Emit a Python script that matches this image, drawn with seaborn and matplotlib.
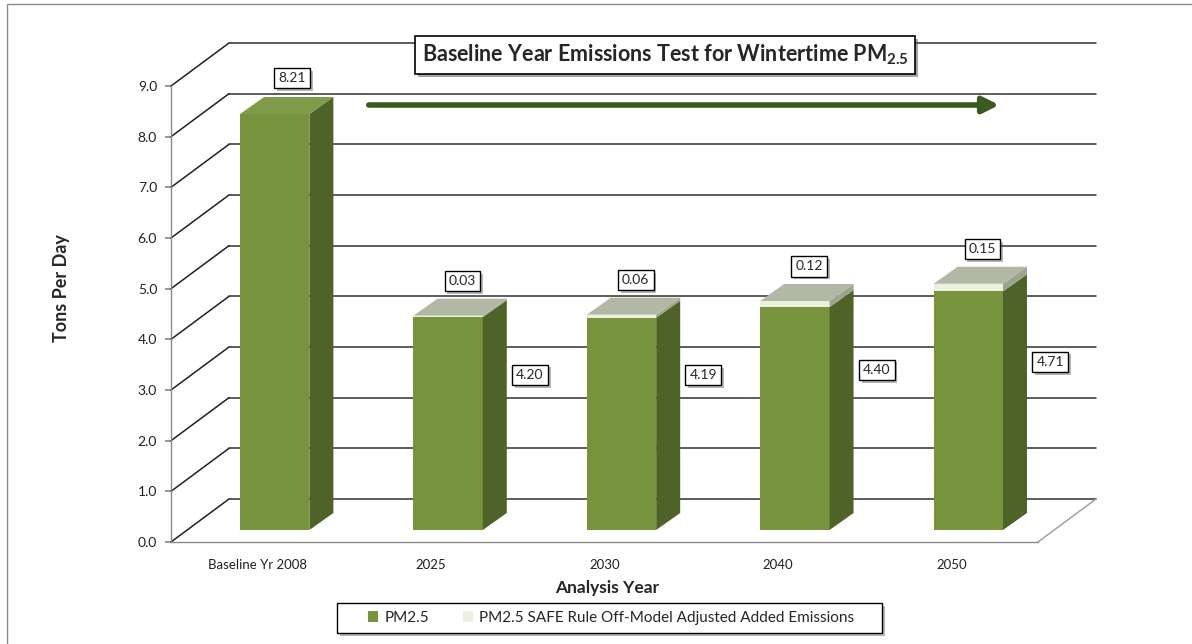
import matplotlib
matplotlib.use("Agg")
import matplotlib.pyplot as plt
import matplotlib.patheffects as pe
from matplotlib.patches import Polygon, Rectangle, Patch
import numpy as np
import pandas as pd
import seaborn as sns

# data
categories = ["Baseline Yr 2008", "2025", "2030", "2040", "2050"]
pm25 = [8.21, 4.20, 4.19, 4.40, 4.71]
safe = [0.00, 0.03, 0.06, 0.12, 0.15]
yticks = [0, 1, 2, 3, 4, 5, 6, 7, 8, 9]

GREEN = "#77933C"
GREEN_SIDE = "#4F6228"
GREEN_TOP = "#7F9A48"
LIGHT = "#EBF1DE"
LIGHT_SIDE = "#9DA48E"
LIGHT_TOP = "#B1B8A6"
ARROW = "#3A5A1F"

W, H = 1192, 644


def fx(px):
    return px / W


def fy(py):
    return 1 - py / H


def boxed(ax, x, y, s, **kw):
    t = ax.text(x, y, s, ha="center", va="center", fontsize=10, zorder=10,
                bbox=dict(boxstyle="square,pad=0.3", fc="white", ec="black", lw=1), **kw)
    t.get_bbox_patch().set_path_effects([pe.SimplePatchShadow(offset=(2, -2), alpha=0.4), pe.Normal()])
    return t


def main():
    sns.set_theme(style="white")
    plt.rcParams["font.family"] = ["Lato", "DejaVu Sans"]
    plt.rcParams["mathtext.fontset"] = "custom"
    plt.rcParams["mathtext.bf"] = "Lato:bold"
    plt.rcParams["mathtext.rm"] = "Lato:bold"
    plt.rcParams["mathtext.default"] = "bf"

    fig = plt.figure(figsize=(W / 100, H / 100), dpi=100)
    ax = fig.add_axes([fx(171), fy(542), fx(1038) - fx(171), fy(86) - fy(542)])

    # pixel scale of the front plane
    ppx = (1038 - 171) / 5
    ppy = (542 - 86) / 9
    wall_dx, wall_dy = 58 / ppx, 43 / ppy    # back wall offset
    bar_dx, bar_dy = 17 / ppx, 12 / ppy      # bar front plane offset
    dep_dx, dep_dy = 24 / ppx, 17 / ppy      # bar depth

    totals = [p + s for p, s in zip(pm25, safe)]
    df = pd.DataFrame({"year": categories, "pm25": pm25, "total": totals})

    # back wall gridlines and left wall diagonals
    for v in yticks:
        ax.plot([-0.5 + wall_dx, 4.5 + wall_dx], [v + wall_dy, v + wall_dy],
                color="#303030", lw=1.1, zorder=1, clip_on=False)
        ax.plot([-0.5, -0.5 + wall_dx], [v, v + wall_dy], color="#202020", lw=1.1, zorder=1, clip_on=False)
    ax.plot([4.5, 4.5 + wall_dx], [0, wall_dy], color="#9a9a9a", lw=1, zorder=1, clip_on=False)

    # stacked front faces
    sns.barplot(data=df, x="year", y="total", color=LIGHT, saturation=1, width=0.4, ax=ax, zorder=3)
    sns.barplot(data=df, x="year", y="pm25", color=GREEN, saturation=1, width=0.4, ax=ax, zorder=3)
    for p in ax.patches:
        p.set_x(p.get_x() + bar_dx)
        p.set_y(p.get_y() + bar_dy)
        p.set_edgecolor("none")
        p.set_clip_on(False)

    # side and top faces
    for i, (p, s) in enumerate(zip(pm25, safe)):
        xl = i - 0.2 + bar_dx
        xr = i + 0.2 + bar_dx
        segs = [(0, p, GREEN_SIDE)]
        if s > 0:
            segs.append((p, p + s, LIGHT_SIDE))
        for y0, y1, c in segs:
            ax.add_patch(Polygon([(xr, y0 + bar_dy), (xr + dep_dx, y0 + bar_dy + dep_dy),
                                  (xr + dep_dx, y1 + bar_dy + dep_dy), (xr, y1 + bar_dy)],
                                 closed=True, fc=c, ec="none", zorder=3, clip_on=False))
        top = p + s + bar_dy
        ax.add_patch(Polygon([(xl, top), (xr, top), (xr + dep_dx, top + dep_dy), (xl + dep_dx, top + dep_dy)],
                             closed=True, fc=LIGHT_TOP if s > 0 else GREEN_TOP, ec="none", zorder=3,
                             clip_on=False))

        # data labels
        if s > 0:
            boxed(ax, i + 0.18, p + s + 0.92, f"{s:.2f}")
            boxed(ax, i + 0.57, p / 2 + 1.2, f"{p:.2f}")
        else:
            boxed(ax, i + 0.2, p + 0.95, f"{p:.2f}")

    ax.set_xlim(-0.5, 4.5)
    ax.set_ylim(0, 9)
    ax.set_yticks(yticks)
    ax.set_yticklabels([f"{v:.1f}" for v in yticks], fontsize=10, color="#202020")
    ax.set_xticks(range(len(categories)))
    ax.set_xticklabels(categories, fontsize=9.5, color="#202020")
    ax.set_xticks(np.arange(-0.5, 5, 1), minor=True)
    ax.tick_params(axis="x", which="major", length=0, pad=12)
    ax.tick_params(axis="x", which="minor", length=5, color="#8a8a8a", direction="out")
    ax.tick_params(axis="y", length=4, color="#8a8a8a", direction="out", left=True, pad=6)
    ax.set_xlabel("")
    ax.set_ylabel("")
    for side in ["top", "right"]:
        ax.spines[side].set_visible(False)
    for side in ["left", "bottom"]:
        ax.spines[side].set_color("#8a8a8a")
        ax.spines[side].set_linewidth(1)
    ax.patch.set_alpha(0)

    # titles
    t = fig.text(fx(665), fy(55), "Baseline Year Emissions Test for Wintertime PM$_{2.5}$",
                 ha="center", va="center", fontsize=15.5, fontweight="bold",
                 bbox=dict(boxstyle="square,pad=0.3", fc="white", ec="black", lw=1.2))
    t.get_bbox_patch().set_path_effects([pe.SimplePatchShadow(offset=(2, -2), alpha=0.5), pe.Normal()])
    fig.text(fx(62), fy(288), "Tons Per Day", rotation=90, ha="center", va="center",
             fontsize=13, fontweight="bold")
    fig.text(fx(607), fy(588), "Analysis Year", ha="center", va="center", fontsize=12.5, fontweight="bold")

    # trend arrow
    fig.add_artist(matplotlib.patches.FancyArrowPatch((fx(366), fy(105)), (fx(1002), fy(105)),
                                                      transform=fig.transFigure, arrowstyle="-|>",
                                                      mutation_scale=24, lw=4, color=ARROW))

    # legend
    box = Rectangle((fx(337), fy(633)), fx(882) - fx(337), fy(603) - fy(633), transform=fig.transFigure,
                    fc="white", ec="black", lw=1)
    box.set_path_effects([pe.SimplePatchShadow(offset=(2, -2), alpha=0.4), pe.Normal()])
    fig.add_artist(box)
    handles = [Patch(fc=GREEN, ec="none", label="PM2.5"),
               Patch(fc=LIGHT, ec="none", label="PM2.5 SAFE Rule Off-Model Adjusted Added Emissions")]
    fig.legend(handles=handles, loc="center", bbox_to_anchor=(fx(611), fy(618)), ncol=2, frameon=False,
               fontsize=11, handlelength=0.7, handleheight=0.7, handletextpad=0.4, columnspacing=2.2)

    # outer chart border
    fig.add_artist(Rectangle((fx(7), -0.1), 1.2, fy(4) + 0.1, transform=fig.transFigure,
                             fc="none", ec="#8c8c8c", lw=1))

    fig.savefig("out.png", dpi=100)


if __name__ == "__main__":
    main()
